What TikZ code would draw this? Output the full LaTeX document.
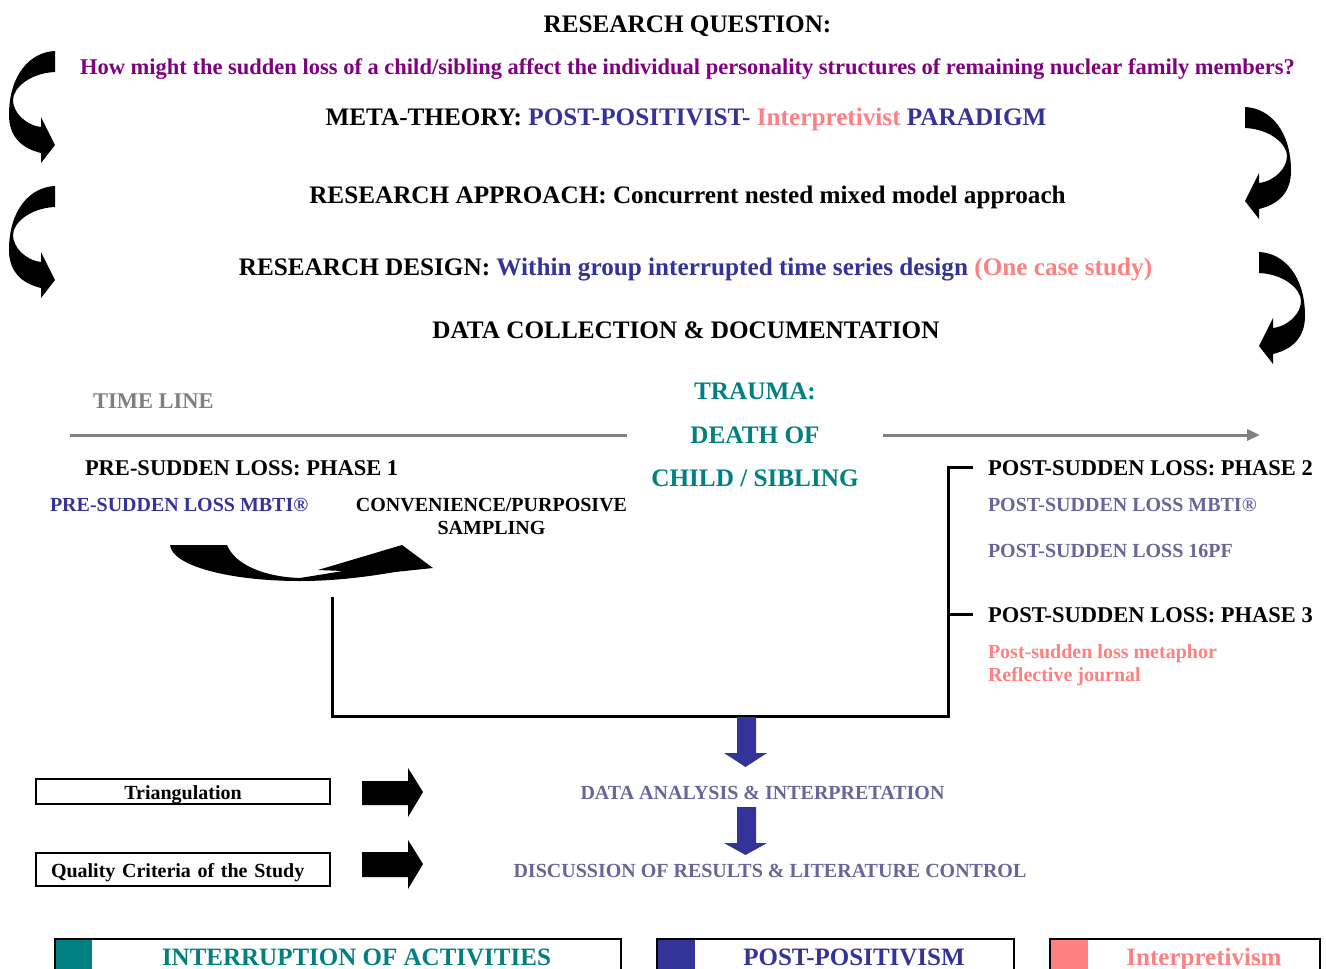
\documentclass[tikz,border=0pt]{standalone}
\usepackage{fontspec}
\setmainfont{Liberation Serif}
\usetikzlibrary{arrows.meta}

\definecolor{qpurple}{HTML}{800080}
\definecolor{ppblue}{HTML}{333399}
\definecolor{ipink}{HTML}{FF8080}
\definecolor{iteal}{HTML}{008080}
\definecolor{tlgrey}{HTML}{808080}
\definecolor{slate}{HTML}{666699}

\newcommand\fsz[1]{\fontsize{#1}{#1}\selectfont\bfseries}

% curved side arrow (tail at top right, head pointing down-right)
\newcommand\sidearrow{%
  \fill (55,51) -- (55,72) .. controls (30,73) and (13,88) .. (13,100)
    .. controls (13,112) and (25,125) .. (41,127) -- (41,117) -- (55,145)
    -- (41,163) -- (41,153) .. controls (20,148) and (9,135) .. (9,115)
    .. controls (9,75) and (30,52) .. (55,51) -- cycle;}

\begin{document}
\begin{tikzpicture}[x=1pt,y=-1pt,
  every node/.style={inner sep=0pt,outer sep=0pt},
  big/.style={anchor=base,font=\fsz{25.2}},
  mid/.style={anchor=base west,font=\fsz{22.5}},
  small/.style={anchor=base west,font=\fsz{20}},
  legendtxt/.style={anchor=base,font=\fsz{25}},
  frameline/.style={line width=3pt},
  boxed/.style={draw,line width=2.5pt,font=\fsz{20},minimum width=294,inner ysep=0pt,
    text height=15pt,text depth=0pt},
  legendbox/.style={draw,line width=2pt},
  bluearrow/.style={fill=ppblue},
]
\clip (0,0) rectangle (1326,969);

% header lines
\node[big] (rq) at (687.5,32) {RESEARCH QUESTION:};
\node[anchor=base,font=\fsz{22.5},text=qpurple] (question) at (687.5,74)
  {How might the sudden loss of a child/sibling affect the individual personality structures of remaining nuclear family members?};
\node[big] (meta) at (686,125) {META-THEORY: \textcolor{ppblue}{POST-POSITIVIST-} \textcolor{ipink}{Interpretivist} \textcolor{ppblue}{PARADIGM}};
\node[big] (approach) at (687.5,203) {RESEARCH APPROACH: Concurrent nested mixed model approach};
\node[big] (design) at (695.5,275) {RESEARCH DESIGN: \textcolor{ppblue}{Within group interrupted time series design} \textcolor{ipink}{(One case study)}};
\node[big] (collect) at (686,338) {DATA COLLECTION \& DOCUMENTATION};

% curved side arrows
\sidearrow
\begin{scope}[shift={(0,135)}]\sidearrow\end{scope}
\begin{scope}[shift={(1300,56)},xscale=-1]\sidearrow\end{scope}
\begin{scope}[shift={(1314,201)},xscale=-1]\sidearrow\end{scope}

% time line
\node[mid,text=tlgrey] (timeline) at (93,408) {TIME LINE};
\node[big,text=iteal] (trauma1) at (755,399) {TRAUMA:};
\node[big,text=iteal] (trauma2) at (755,443) {DEATH OF};
\node[big,text=iteal] (trauma3) at (755,486) {CHILD / SIBLING};
\coordinate (tlA) at (70,435);
\coordinate (tlB) at (627,435);
\coordinate (tlC) at (883,435);
\coordinate (tlD) at (1260,435);
\draw[line width=3pt,tlgrey] (tlA) -- (tlB);
\draw[line width=3pt,tlgrey,-{Triangle[length=13pt,width=11pt]}] (tlC) -- (tlD);

% phase 1
\node[mid] (phase1) at (85,475) {PRE-SUDDEN LOSS: PHASE 1};
\node[small,text=ppblue] (premb) at (50,511) {PRE-SUDDEN LOSS MBTI\textregistered};
\node[anchor=base,font=\fsz{20},align=center] (sampling) at (491.5,534) {CONVENIENCE/PURPOSIVE\\[3pt]SAMPLING};

% swoosh arrow under phase 1
\fill (170,545) -- (227,545) .. controls (235,565) and (265,577) .. (300,578)
  -- (343,571) -- (318,570) -- (402,545) -- (433,568) -- (395,572)
  .. controls (360,578) and (330,581) .. (300,581)
  .. controls (230,581) and (172,566) .. (170,545) -- cycle;

% phases 2 and 3
\node[mid] (phase2) at (988,475) {POST-SUDDEN LOSS: PHASE 2};
\node[small,text=slate] (postmb) at (988,511) {POST-SUDDEN LOSS MBTI\textregistered};
\node[small,text=slate] (post16) at (988,557) {POST-SUDDEN LOSS 16PF};
\node[mid] (phase3) at (988,622) {POST-SUDDEN LOSS: PHASE 3};
\node[small,text=ipink] (metaphor) at (988,658) {Post-sudden loss metaphor};
\node[small,text=ipink] (journal) at (988,681) {Reflective journal};

% bracket joining the phases
\coordinate (lTop) at (332,597);
\coordinate (lBot) at (332,716);
\coordinate (rBot) at (948,716);
\coordinate (rTop) at (948,467);
\coordinate (rMid) at (948,614);
\draw[frameline] (lTop) -- (lBot) -- (rBot) -- (rTop) -- ++(25,0);
\draw[frameline] (rMid) -- ++(25,0);

% analysis steps
\node[anchor=base,font=\fsz{20},text=slate] (analysis) at (762.5,799) {DATA ANALYSIS \& INTERPRETATION};
\node[anchor=base,font=\fsz{20},text=slate] (discussion) at (770,877) {DISCUSSION OF RESULTS \& LITERATURE CONTROL};
\fill[bluearrow] (737,717) -- (756,717) -- (756,753) -- (767,753) -- (745.5,767) -- (724,753) -- (737,753) -- cycle;
\fill[bluearrow] (737,807) -- (756,807) -- (756,843) -- (767,843) -- (745.5,855) -- (724,843) -- (737,843) -- cycle;

% quality boxes and arrows
\node[boxed,minimum height=25] (tri) at (183,791.5) {Triangulation};
\node[boxed,minimum height=33,text width=264,inner xsep=15,align=left] (quality) at (183,869.5) {Quality Criteria of the Study};
\fill (362,781) -- (408,781) -- (408,768) -- (423,792) -- (408,817) -- (408,805) -- (362,805) -- cycle;
\fill (362,852) -- (408,852) -- (408,840) -- (423,864) -- (408,889) -- (408,877) -- (362,877) -- cycle;

% legend
\draw[legendbox] (55,985) |- (621,939) -- (621,985);
\fill[iteal] (56,940) rectangle (92,985);
\node[legendtxt,text=iteal] (leg1) at (356.5,965) {INTERRUPTION OF ACTIVITIES};
\draw[legendbox] (657,985) |- (1014,939) -- (1014,985);
\fill[ppblue] (658,940) rectangle (695,985);
\node[legendtxt,text=ppblue] (leg2) at (854,965) {POST-POSITIVISM};
\draw[legendbox] (1050,985) |- (1320,939) -- (1320,985);
\fill[ipink] (1051,940) rectangle (1088,985);
\node[legendtxt,text=ipink] (leg3) at (1204,965) {Interpretivism};
\end{tikzpicture}
\end{document}
